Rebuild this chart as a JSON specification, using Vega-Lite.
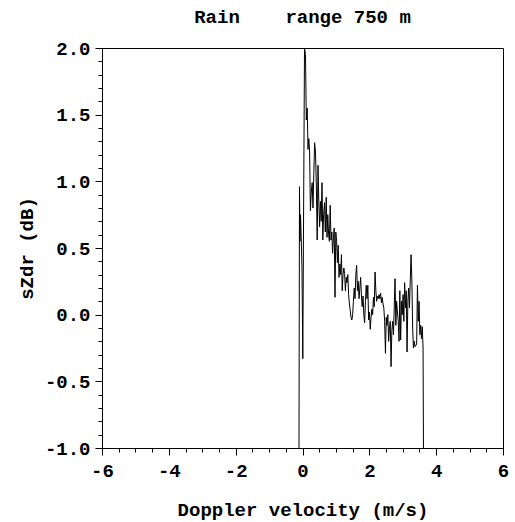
{
  "$schema": "https://vega.github.io/schema/vega-lite/v6.json",
  "autosize": "none",
  "width": 401,
  "height": 400,
  "padding": {"left": 102, "top": 48, "right": 12, "bottom": 74},
  "background": "white",
  "config": {"view": {"stroke": "black", "strokeWidth": 1}, "font": "Liberation Mono"},
  "title": {"text": "Rain\u00a0\u00a0\u00a0\u00a0range 750 m", "font": "Liberation Mono", "fontSize": 19, "fontWeight": "bold", "color": "black", "offset": 12, "anchor": "middle"},
  "data": {"values": [
    {"v": -0.105, "szdr": -1.0}, {"v": -0.090, "szdr": 0.96}, {"v": -0.075, "szdr": 0.55}, {"v": -0.060, "szdr": 0.75},
    {"v": -0.039, "szdr": 0.58}, {"v": -0.015, "szdr": 0.35}, {"v": 0.009, "szdr": -0.33}, {"v": 0.060, "szdr": 2.0},
    {"v": 0.090, "szdr": 1.95}, {"v": 0.114, "szdr": 1.46}, {"v": 0.141, "szdr": 1.55}, {"v": 0.165, "szdr": 1.24},
    {"v": 0.189, "szdr": 1.32}, {"v": 0.213, "szdr": 1.22}, {"v": 0.237, "szdr": 0.78}, {"v": 0.263, "szdr": 0.92},
    {"v": 0.290, "szdr": 0.99}, {"v": 0.314, "szdr": 0.80}, {"v": 0.338, "szdr": 1.05}, {"v": 0.362, "szdr": 1.29},
    {"v": 0.389, "szdr": 1.22}, {"v": 0.416, "szdr": 0.95}, {"v": 0.440, "szdr": 0.56}, {"v": 0.464, "szdr": 1.12},
    {"v": 0.488, "szdr": 0.85}, {"v": 0.512, "szdr": 0.66}, {"v": 0.536, "szdr": 0.85}, {"v": 0.560, "szdr": 0.70},
    {"v": 0.584, "szdr": 0.99}, {"v": 0.608, "szdr": 0.56}, {"v": 0.632, "szdr": 0.75}, {"v": 0.659, "szdr": 0.84},
    {"v": 0.683, "szdr": 0.62}, {"v": 0.710, "szdr": 0.88}, {"v": 0.734, "szdr": 0.58}, {"v": 0.757, "szdr": 0.75},
    {"v": 0.781, "szdr": 0.60}, {"v": 0.805, "szdr": 0.55}, {"v": 0.829, "szdr": 0.82}, {"v": 0.853, "szdr": 0.56},
    {"v": 0.877, "szdr": 0.62}, {"v": 0.901, "szdr": 0.46}, {"v": 0.925, "szdr": 0.58}, {"v": 0.949, "szdr": 0.65},
    {"v": 0.973, "szdr": 0.13}, {"v": 0.997, "szdr": 0.62}, {"v": 1.021, "szdr": 0.55}, {"v": 1.045, "szdr": 0.39},
    {"v": 1.069, "szdr": 0.52}, {"v": 1.093, "szdr": 0.28}, {"v": 1.117, "szdr": 0.38}, {"v": 1.141, "szdr": 0.30},
    {"v": 1.165, "szdr": 0.45}, {"v": 1.189, "szdr": 0.18}, {"v": 1.213, "szdr": 0.30}, {"v": 1.237, "szdr": 0.35},
    {"v": 1.260, "szdr": 0.31}, {"v": 1.284, "szdr": 0.18}, {"v": 1.308, "szdr": 0.28}, {"v": 1.332, "szdr": 0.24},
    {"v": 1.356, "szdr": 0.30}, {"v": 1.380, "szdr": 0.15}, {"v": 1.404, "szdr": 0.08}, {"v": 1.428, "szdr": 0.03},
    {"v": 1.452, "szdr": -0.02}, {"v": 1.476, "szdr": -0.04}, {"v": 1.500, "szdr": 0.00}, {"v": 1.524, "szdr": 0.10},
    {"v": 1.548, "szdr": 0.20}, {"v": 1.572, "szdr": 0.12}, {"v": 1.596, "szdr": 0.30}, {"v": 1.620, "szdr": 0.37},
    {"v": 1.644, "szdr": 0.18}, {"v": 1.668, "szdr": 0.25}, {"v": 1.692, "szdr": 0.12}, {"v": 1.716, "szdr": 0.20},
    {"v": 1.740, "szdr": 0.28}, {"v": 1.764, "szdr": 0.14}, {"v": 1.787, "szdr": 0.06}, {"v": 1.811, "szdr": 0.14},
    {"v": 1.835, "szdr": 0.00}, {"v": 1.859, "szdr": -0.06}, {"v": 1.883, "szdr": 0.10}, {"v": 1.907, "szdr": 0.22},
    {"v": 1.931, "szdr": 0.12}, {"v": 1.955, "szdr": 0.22}, {"v": 1.979, "szdr": -0.04}, {"v": 2.003, "szdr": 0.02},
    {"v": 2.027, "szdr": -0.11}, {"v": 2.051, "szdr": -0.02}, {"v": 2.075, "szdr": 0.04}, {"v": 2.099, "szdr": 0.00},
    {"v": 2.123, "szdr": 0.13}, {"v": 2.147, "szdr": 0.06}, {"v": 2.171, "szdr": 0.32}, {"v": 2.195, "szdr": 0.18},
    {"v": 2.219, "szdr": 0.10}, {"v": 2.243, "szdr": 0.14}, {"v": 2.266, "szdr": 0.12}, {"v": 2.290, "szdr": 0.15},
    {"v": 2.314, "szdr": 0.12}, {"v": 2.338, "szdr": 0.16}, {"v": 2.362, "szdr": 0.09}, {"v": 2.386, "szdr": 0.13},
    {"v": 2.410, "szdr": 0.08}, {"v": 2.434, "szdr": 0.05}, {"v": 2.458, "szdr": -0.05}, {"v": 2.482, "szdr": -0.29},
    {"v": 2.506, "szdr": -0.02}, {"v": 2.530, "szdr": -0.08}, {"v": 2.554, "szdr": 0.00}, {"v": 2.578, "szdr": -0.20},
    {"v": 2.602, "szdr": -0.10}, {"v": 2.626, "szdr": -0.05}, {"v": 2.650, "szdr": -0.39}, {"v": 2.674, "szdr": -0.12},
    {"v": 2.698, "szdr": -0.05}, {"v": 2.722, "szdr": -0.15}, {"v": 2.745, "szdr": 0.05}, {"v": 2.769, "szdr": 0.27},
    {"v": 2.793, "szdr": -0.08}, {"v": 2.817, "szdr": 0.10}, {"v": 2.841, "szdr": 0.02}, {"v": 2.865, "szdr": -0.05},
    {"v": 2.889, "szdr": -0.20}, {"v": 2.913, "szdr": 0.18}, {"v": 2.937, "szdr": -0.19}, {"v": 2.961, "szdr": 0.10},
    {"v": 2.985, "szdr": 0.00}, {"v": 3.009, "szdr": 0.15}, {"v": 3.033, "szdr": -0.05}, {"v": 3.057, "szdr": 0.24},
    {"v": 3.081, "szdr": 0.05}, {"v": 3.105, "szdr": 0.18}, {"v": 3.129, "szdr": -0.28}, {"v": 3.153, "szdr": 0.10},
    {"v": 3.177, "szdr": 0.20}, {"v": 3.201, "szdr": 0.05}, {"v": 3.225, "szdr": 0.26}, {"v": 3.249, "szdr": 0.45},
    {"v": 3.273, "szdr": 0.26}, {"v": 3.296, "szdr": -0.10}, {"v": 3.320, "szdr": -0.25}, {"v": 3.344, "szdr": -0.20},
    {"v": 3.368, "szdr": -0.24}, {"v": 3.392, "szdr": -0.23}, {"v": 3.416, "szdr": -0.22}, {"v": 3.440, "szdr": 0.22},
    {"v": 3.464, "szdr": -0.05}, {"v": 3.488, "szdr": 0.10}, {"v": 3.512, "szdr": -0.15}, {"v": 3.536, "szdr": -0.08},
    {"v": 3.560, "szdr": -0.18}, {"v": 3.584, "szdr": -0.09}, {"v": 3.608, "szdr": -0.25}, {"v": 3.620, "szdr": -1.0}
  ]},
  "mark": {"type": "line", "color": "black", "strokeWidth": 1, "interpolate": "linear"},
  "encoding": {
    "x": {
      "field": "v", "type": "quantitative",
      "scale": {"domain": [-6, 6], "nice": false, "zero": false},
      "axis": {
        "title": "Doppler velocity (m/s)",
        "values": [-6, -5.5, -5, -4.5, -4, -3.5, -3, -2.5, -2, -1.5, -1, -0.5, 0, 0.5, 1, 1.5, 2, 2.5, 3, 3.5, 4, 4.5, 5, 5.5, 6],
        "labelExpr": "datum.value % 2 == 0 ? '' + datum.value : ''",
        "tickSize": {"condition": {"test": "datum.value % 2 == 0", "value": 7}, "value": 4},
        "grid": false,
        "domainColor": "black", "tickColor": "black", "labelColor": "black", "titleColor": "black",
        "labelFont": "Liberation Mono", "labelFontSize": 19, "labelFontWeight": "bold",
        "titleFont": "Liberation Mono", "titleFontSize": 19, "titleFontWeight": "bold",
        "labelPadding": 6, "titlePadding": 20, "labelFlush": false, "labelOverlap": false
      }
    },
    "y": {
      "field": "szdr", "type": "quantitative",
      "scale": {"domain": [-1, 2], "nice": false, "zero": false},
      "axis": {
        "title": "sZdr (dB)",
        "values": [-1, -0.9, -0.8, -0.7, -0.6, -0.5, -0.4, -0.3, -0.2, -0.1, 0, 0.1, 0.2, 0.3, 0.4, 0.5, 0.6, 0.7, 0.8, 0.9, 1, 1.1, 1.2, 1.3, 1.4, 1.5, 1.6, 1.7, 1.8, 1.9, 2],
        "labelExpr": "abs(datum.value*2 - round(datum.value*2)) < 0.001 ? replace(format(datum.value, '.1f'), '\u2212', '-') : ''",
        "tickSize": {"condition": {"test": "abs(datum.value*2 - round(datum.value*2)) < 0.001", "value": 7}, "value": 4},
        "grid": false,
        "domainColor": "black", "tickColor": "black", "labelColor": "black", "titleColor": "black",
        "labelFont": "Liberation Mono", "labelFontSize": 19, "labelFontWeight": "bold",
        "titleFont": "Liberation Mono", "titleFontSize": 19, "titleFontWeight": "bold",
        "labelPadding": 5, "titlePadding": 8, "labelOverlap": false
      }
    }
  }
}
